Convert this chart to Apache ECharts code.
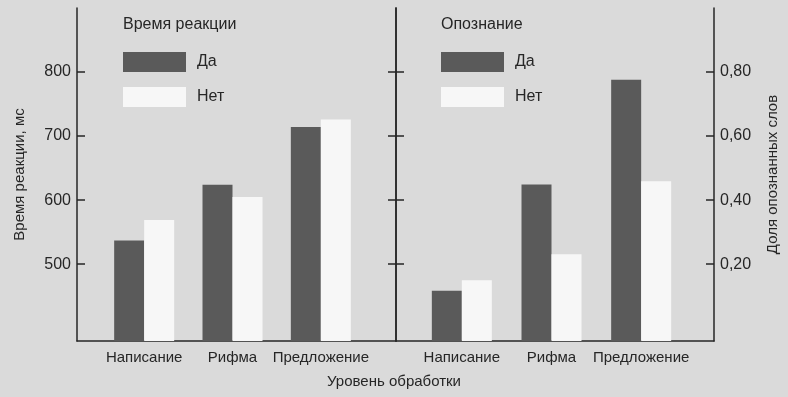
<!DOCTYPE html>
<html>
<head>
<meta charset="utf-8">
<script src="https://cdn.jsdelivr.net/npm/echarts@6/dist/echarts.min.js"></script>
<style>
  html, body { margin: 0; padding: 0; background: #dadada; }
  #chart { width: 788px; height: 397px; }
</style>
</head>
<body>
<div id="chart"></div>
<script>
// уровни обработки
const levels = ['Написание', 'Рифма', 'Предложение']
// время реакции, мс
const rtYes = [537, 624, 714]
const rtNo = [569, 605, 726]
// доля опознанных слов
const recYes = [0.117, 0.449, 0.776]
const recNo = [0.15, 0.231, 0.459]
// деления осей
const rtTicks = [500, 600, 700, 800]
const recTicks = [0.2, 0.4, 0.6, 0.8]

const FONT = '"Liberation Sans", Arial, sans-serif'
const INK = '#262626'
const DARK = '#5a5a5a'
const LIGHT = '#f7f7f7'
const TOP = 8
const BOTTOM = 56

const line = { show: true, onZero: false, lineStyle: { color: INK, width: 1.5 } }

function frameX(grid) {
  return {
    gridIndex: grid, type: 'value', min: 0, max: 1,
    axisLine: line, axisTick: { show: false }, axisLabel: { show: false }, splitLine: { show: false }
  }
}

function barX(grid) {
  return {
    gridIndex: grid, type: 'category', data: levels,
    axisLine: { show: false }, axisTick: { show: false },
    axisLabel: { interval: 0, margin: 9, color: INK, fontSize: 15, fontFamily: FONT }
  }
}

function tickY(grid, pos, min, max, ticks, extra) {
  return Object.assign({
    gridIndex: grid, type: 'value', position: pos, min: min, max: max,
    axisLine: line,
    axisTick: { show: true, inside: true, length: 8, customValues: ticks, lineStyle: { color: INK, width: 1.5 } },
    axisLabel: { show: false },
    splitLine: { show: false }
  }, extra || {})
}

function hiddenY(grid, min, max) {
  return { gridIndex: grid, type: 'value', min: min, max: max, startValue: min, show: false, splitLine: { show: false } }
}

const chart = echarts.init(document.getElementById('chart'))

chart.setOption({
  backgroundColor: '#dadada',
  animation: false,
  textStyle: { fontFamily: FONT, color: INK },
  title: [
    { text: 'Время реакции', left: 123, top: 17, padding: 0, textStyle: { fontSize: 16, fontWeight: 'normal', color: INK, fontFamily: FONT } },
    { text: 'Опознание', left: 441, top: 17, padding: 0, textStyle: { fontSize: 16, fontWeight: 'normal', color: INK, fontFamily: FONT } },
    { text: 'Уровень обработки', left: 327, top: 374, padding: 0, textStyle: { fontSize: 15, fontWeight: 'normal', color: INK, fontFamily: FONT } }
  ],
  legend: [
    {
      left: 123, top: 52, orient: 'vertical', padding: 0, itemGap: 15,
      itemWidth: 63, itemHeight: 20, icon: 'rect', selectedMode: false,
      data: ['Да', 'Нет'],
      textStyle: { fontSize: 16, color: INK, fontFamily: FONT, padding: [0, 0, 0, 6] }
    },
    {
      left: 441, top: 52, orient: 'vertical', padding: 0, itemGap: 15,
      itemWidth: 63, itemHeight: 20, icon: 'rect', selectedMode: false,
      data: ['Да', 'Нет'],
      textStyle: { fontSize: 16, color: INK, fontFamily: FONT, padding: [0, 0, 0, 6] }
    }
  ],
  grid: [
    { left: 77, right: 392, top: TOP, bottom: BOTTOM },
    { left: 100, right: 423, top: TOP, bottom: BOTTOM },
    { left: 396, right: 74, top: TOP, bottom: BOTTOM },
    { left: 417, right: 102, top: TOP, bottom: BOTTOM }
  ],
  xAxis: [frameX(0), barX(1), frameX(2), barX(3)],
  yAxis: [
    tickY(0, 'left', 380, 900, rtTicks, {
      name: 'Время реакции, мс', nameLocation: 'middle', nameGap: 50, nameRotate: 90,
      nameTextStyle: { fontSize: 15, color: INK, fontFamily: FONT },
      axisLabel: { show: true, customValues: rtTicks, margin: 6, fontSize: 16, color: INK, fontFamily: FONT }
    }),
    tickY(0, 'right', 380, 900, rtTicks),
    hiddenY(1, 380, 900),
    tickY(2, 'left', -0.04, 1, recTicks),
    tickY(2, 'right', -0.04, 1, recTicks, {
      name: 'Доля опознанных слов', nameLocation: 'middle', nameGap: 51, nameRotate: 90,
      nameTextStyle: { fontSize: 15, color: INK, fontFamily: FONT },
      axisLabel: {
        show: true, customValues: recTicks, margin: 6, fontSize: 16, color: INK, fontFamily: FONT,
        formatter: v => v.toFixed(2).replace('.', ',')
      }
    }),
    hiddenY(3, -0.04, 1)
  ],
  series: [
    { name: 'Да', type: 'bar', xAxisIndex: 1, yAxisIndex: 2, data: rtYes, barWidth: 30, barGap: '0%', itemStyle: { color: DARK } },
    { name: 'Нет', type: 'bar', xAxisIndex: 1, yAxisIndex: 2, data: rtNo, barWidth: 30, barGap: '0%', itemStyle: { color: LIGHT } },
    { name: 'Да', type: 'bar', xAxisIndex: 3, yAxisIndex: 5, data: recYes, barWidth: 30, barGap: '0%', itemStyle: { color: DARK } },
    { name: 'Нет', type: 'bar', xAxisIndex: 3, yAxisIndex: 5, data: recNo, barWidth: 30, barGap: '0%', itemStyle: { color: LIGHT } }
  ]
})
</script>
</body>
</html>
